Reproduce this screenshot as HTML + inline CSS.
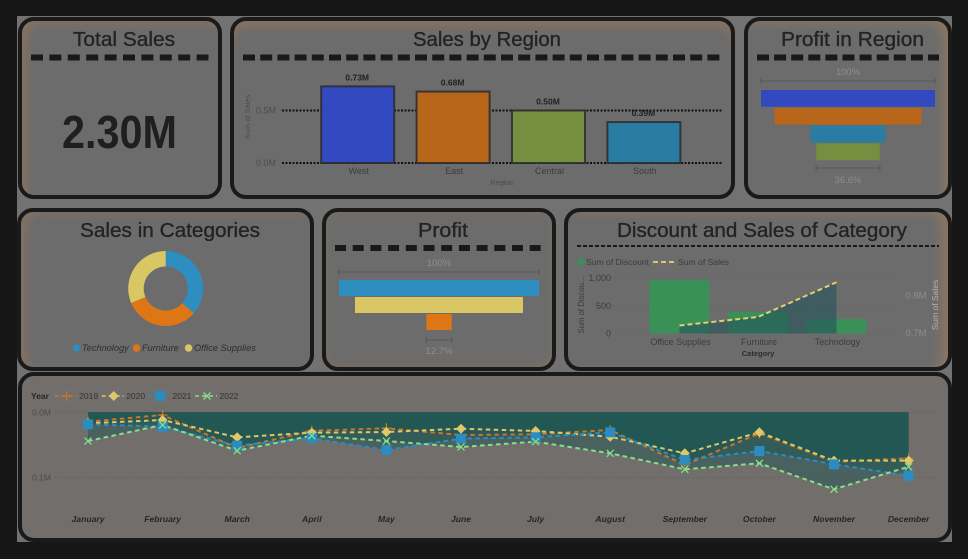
<!DOCTYPE html>
<html lang="en">
<head>
<meta charset="utf-8">
<title>Sales Dashboard</title>
<style>
html,body{margin:0;padding:0;background:#161616;}
#stage{position:relative;width:968px;height:559px;overflow:hidden;background:#161616;font-family:"Liberation Sans",sans-serif;}
#backdrop{position:absolute;left:17px;top:16px;width:935px;height:526px;background:#727272;}
.card{position:absolute;box-sizing:border-box;border:4px solid #1a1a1a;border-radius:16px;background:#6c6c6c;}
#overlay{position:absolute;left:0;top:0;filter:blur(0.3px);}
text{font-family:"Liberation Sans",sans-serif;}
.title{font-size:20px;fill:#232323;stroke:#232323;stroke-width:0.35px;text-anchor:middle;}
.dash{stroke:#191919;stroke-width:6;fill:none;}
.axis{font-size:9px;fill:#3c3c3c;}
.faint{font-size:9px;fill:#4c4c4c;}
.pct{font-size:9.5px;fill:#8e8e8e;text-anchor:middle;}
.grid{stroke:#111;stroke-width:2;stroke-dasharray:2 1.5;fill:none;}
.softgrid{stroke:#5f5f5f;stroke-width:1;stroke-dasharray:1 2;fill:none;}
</style>
</head>
<body>
<div id="stage">
  <div id="backdrop"></div>
  <div class="card" style="left:18px;top:17px;width:204px;height:182px;box-shadow:inset 8px 6px 9px -3px #87725f;"></div>
  <div class="card" style="left:230px;top:17px;width:505px;height:182px;box-shadow:inset 0 9px 10px -3px #87725f;"></div>
  <div class="card" style="left:744px;top:17px;width:208px;height:182px;box-shadow:inset -8px 5px 10px -3px #8b7663;"></div>
  <div class="card" style="left:17px;top:208px;width:297px;height:163px;box-shadow:inset 8px 3px 10px -3px #857262;"></div>
  <div class="card" style="left:322px;top:208px;width:234px;height:163px;box-shadow:inset 0 0 9px 1px #7a6f66;"></div>
  <div class="card" style="left:564px;top:208px;width:388px;height:163px;box-shadow:inset -9px 2px 10px -2px #8b7664;"></div>
  <div class="card" style="left:18px;top:372px;width:934px;height:170px;background:#726e6c;"></div>

  <svg id="overlay" width="968" height="559" viewBox="0 0 968 559" xmlns="http://www.w3.org/2000/svg">
    <text class="title" x="124" y="46" textLength="102" lengthAdjust="spacingAndGlyphs">Total Sales</text>
    <line class="dash" x1="31" y1="57.5" x2="208.5" y2="57.5" stroke-dasharray="12 6.4"/>
    <text x="119.5" y="148" font-size="46" font-weight="700" fill="#1f1f1f" text-anchor="middle" textLength="115" lengthAdjust="spacingAndGlyphs">2.30M</text>

    <text class="title" x="487" y="46" textLength="148" lengthAdjust="spacingAndGlyphs">Sales by Region</text>
    <line class="dash" x1="243" y1="57.5" x2="722" y2="57.5" stroke-dasharray="12 5.2"/>
    <g id="region-chart"></g>
    <text class="faint" x="250" y="117" style="font-size:7.5px" text-anchor="middle" transform="rotate(-90 250 117)">Sum of Sales</text>
    <text class="faint" x="502" y="185" style="font-size:7.5px" text-anchor="middle">Region</text>

    <text class="title" x="852.5" y="46" textLength="143" lengthAdjust="spacingAndGlyphs">Profit in Region</text>
    <line class="dash" x1="757" y1="57.5" x2="939" y2="57.5" stroke-dasharray="12 5.1"/>
    <g id="region-funnel"></g>

    <text class="title" x="170" y="237" textLength="180" lengthAdjust="spacingAndGlyphs">Sales in Categories</text>
    <g id="donut"></g>

    <text class="title" x="443" y="237" textLength="50" lengthAdjust="spacingAndGlyphs">Profit</text>
    <line class="dash" x1="335" y1="248" x2="542" y2="248" stroke-dasharray="11 6.7"/>
    <g id="profit-funnel"></g>

    <text class="title" x="762" y="237" textLength="290" lengthAdjust="spacingAndGlyphs">Discount and Sales of Category</text>
    <line x1="577" y1="246" x2="939" y2="246" stroke="#191919" stroke-width="2" stroke-dasharray="4 2"/>
    <circle cx="581" cy="262" r="3.5" fill="#3a9157"/>
    <text class="axis" x="586" y="265" style="font-size:8.6px">Sum of Discount</text>
    <line x1="653" y1="262" x2="677" y2="262" stroke="#dcc868" stroke-width="2" stroke-dasharray="5 3"/>
    <text class="axis" x="678" y="265" style="font-size:8.6px">Sum of Sales</text>
    <g id="combo"></g>
    <text class="axis" x="584" y="305" text-anchor="middle" style="font-size:7.8px" transform="rotate(-90 584 305)">Sum of Discou...</text>
    <text x="938" y="305" font-size="8.5" fill="#b2b2b2" text-anchor="middle" transform="rotate(-90 938 305)">Sum of Sales</text>
    <text x="758" y="356" font-size="7.5" font-weight="700" fill="#2c2c2c" text-anchor="middle">Category</text>

    <g id="monthly"></g>
    <text x="31" y="399" font-size="8.5" font-weight="700" fill="#262626">Year</text>
  </svg>
</div>

<script>
/* ---------- data ---------- */
var regionNames = ['West', 'East', 'Central', 'South'];
var regionSales = [0.73, 0.68, 0.50, 0.39];
var regionSalesLabels = ['0.73M', '0.68M', '0.50M', '0.39M'];
var regionTicks = [0.0, 0.5];
var regionTickLabels = ['0.0M', '0.5M'];
var regionColors = ['#3349c0', '#b8661a', '#748f40', '#2a7ca3'];

var regionProfitPct = [100, 84.5, 43, 36.6];
var regionProfitColors = ['#3349c0', '#b8661a', '#2a7ca3', '#748f40'];
var regionProfitLabels = ['100%', '36.6%'];

var categoryNames = ['Technology', 'Furniture', 'Office Supplies'];
var categorySales = [0.84, 0.74, 0.72];
var categoryColors = ['#2d8ebf', '#dd7716', '#d9c765'];

var profitPct = [100, 84, 12.7];
var profitColors = ['#2d8ebf', '#d9c765', '#dd7716'];
var profitLabels = ['100%', '12.7%'];

var comboCategories = ['Office Supplies', 'Furniture', 'Technology'];
var comboDiscount = [960, 390, 260];
var comboSales = [0.72, 0.743, 0.836];
var discountTicks = [0, 500, 1000];
var discountTickLabels = ['0', '500', '1,000'];
var salesTicks = [0.7, 0.8];
var salesTickLabels = ['0.7M', '0.8M'];

var months = ['January', 'February', 'March', 'April', 'May', 'June', 'July', 'August', 'September', 'October', 'November', 'December'];
var profit2019 = [14.4, 4.1, 54.7, 28.2, 24.5, 34.8, 33.7, 27.1, 80.7, 32.2, 75.7, 70.4];
var profit2020 = [16.8, 11.8, 38.3, 31.2, 30.2, 25.1, 28.6, 37.4, 62.8, 30.6, 74.1, 74.1];
var profit2021 = [18.4, 22.1, 51.1, 39.8, 57.7, 40.4, 38.3, 30.6, 73.0, 59.3, 79.6, 97.1];
var profit2022 = [44.0, 19.4, 58.8, 35.8, 44.0, 53.1, 45.0, 62.8, 87.3, 78.1, 117.9, 83.3];
var yearNames = ['2019', '2020', '2021', '2022'];
var monthlyTicks = [0, 100];
var monthlyTickLabels = ['0.0M', '0.1M'];

/* ---------- helpers ---------- */
var NS = 'http://www.w3.org/2000/svg';
function mk(parent, tag, props, txt) {
  var n = document.createElementNS(NS, tag);
  for (var k in props) { n.setAttribute(k, props[k]); }
  if (txt !== undefined) { n.textContent = txt; }
  parent.appendChild(n);
  return n;
}
function tag(n, name) {
  
  
  return n;
}

/* ---------- sales by region ---------- */
(function () {
  var g = document.getElementById('region-chart');
  function y(v) { return 163 - v * 105; }
  function x(i) { return 357.7 + i * 95.4; }
  regionTicks.forEach(function (t, i) {
    tag(mk(g, 'line', { 'class': 'grid', x1: 282, x2: 722, y1: y(t), y2: y(t) }), 'region-gridline');
    tag(mk(g, 'text', { 'class': 'faint', x: 256, y: y(t) + 3 }, regionTickLabels[i]), 'region-y-tick');
  });
  regionNames.forEach(function (name, i) {
    tag(mk(g, 'rect', { x: x(i) - 36.5, y: y(regionSales[i]), width: 73, height: y(0) - y(regionSales[i]), fill: regionColors[i], stroke: '#2c2c2c', 'stroke-opacity': 0.85, 'stroke-width': 2 }), 'bar-' + name.toLowerCase());
    tag(mk(g, 'text', { x: x(i) - 0.5, y: y(regionSales[i]) - 6, 'font-size': 8.5, 'font-weight': 700, fill: '#222', 'text-anchor': 'middle' }, regionSalesLabels[i]), 'bar-value-' + name.toLowerCase());
    tag(mk(g, 'text', { 'class': 'axis', x: x(i) + 1, y: 174, 'text-anchor': 'middle' }, name), 'region-x-tick');
  });
})();

/* ---------- funnels ---------- */
function funnel(gid, vals, cols, labels, cx, full, tops, h, topBr, topLab, botBr, botLab, prefix) {
  var g = document.getElementById(gid);
  function w(v) { return v / 100 * full; }
  vals.forEach(function (v, i) {
    tag(mk(g, 'rect', { x: cx - w(v) / 2, y: tops + i * (h + 1), width: w(v), height: h, fill: cols[i] }), prefix + '-stage-' + (i + 1));
  });
  function bracket(v, yy, nm) {
    var hw = w(v) / 2;
    var b = tag(mk(g, 'g', { stroke: '#575757', 'stroke-width': 1, fill: 'none' }), nm);
    mk(b, 'line', { x1: cx - hw, x2: cx + hw, y1: yy, y2: yy });
    mk(b, 'line', { x1: cx - hw, x2: cx - hw, y1: yy - 3, y2: yy + 3 });
    mk(b, 'line', { x1: cx + hw, x2: cx + hw, y1: yy - 3, y2: yy + 3 });
  }
  bracket(vals[0], topBr, prefix + '-top-bracket');
  bracket(vals[vals.length - 1], botBr, prefix + '-bottom-bracket');
  tag(mk(g, 'text', { 'class': 'pct', x: cx, y: topLab }, labels[0]), prefix + '-top-percent');
  tag(mk(g, 'text', { 'class': 'pct', x: cx, y: botLab }, labels[1]), prefix + '-bottom-percent');
}
funnel('region-funnel', regionProfitPct, regionProfitColors, regionProfitLabels, 848, 174, 90, 16.8, 81, 75, 168, 183, 'region-funnel');
funnel('profit-funnel', profitPct, profitColors, profitLabels, 439, 200, 280, 16, 272, 266, 340, 354, 'profit-funnel');

/* ---------- donut ---------- */
(function () {
  var g = document.getElementById('donut');
  var cx = 165.7, cy = 288.5, R = 37.5, r = 22;
  var total = categorySales.reduce(function (a, b) { return a + b; }, 0);
  var a0 = 0;
  function pt(rad, a) { return (cx + rad * Math.sin(a)) + ' ' + (cy - rad * Math.cos(a)); }
  categorySales.forEach(function (v, i) {
    var a1 = a0 + v / total * Math.PI * 2;
    var large = (a1 - a0) > Math.PI ? 1 : 0;
    var d = 'M' + pt(R, a0) + 'A' + R + ' ' + R + ' 0 ' + large + ' 1 ' + pt(R, a1) +
            'L' + pt(r, a1) + 'A' + r + ' ' + r + ' 0 ' + large + ' 0 ' + pt(r, a0) + 'Z';
    tag(mk(g, 'path', { d: d, fill: categoryColors[i] }), 'donut-slice-' + categoryNames[i].toLowerCase().replace(' ', '-'));
    a0 = a1;
  });
  var lx = 76.5;
  var offsets = [0, 60, 112];
  categoryNames.forEach(function (name, i) {
    tag(mk(g, 'circle', { cx: lx + offsets[i], cy: 348, r: 3.7, fill: categoryColors[i] }), 'donut-legend-marker');
    tag(mk(g, 'text', { x: lx + offsets[i] + 5.5, y: 351, 'font-size': 9.2, 'font-style': 'italic', fill: '#2e2e2e' }, name), 'donut-legend-label');
  });
})();

/* ---------- combo chart ---------- */
(function () {
  var g = document.getElementById('combo');
  function yL(v) { return 333.5 - v * 0.0555; }
  function yR(v) { return 333 - (v - 0.7) * 373; }
  function x(i) { return 679.5 + i * 78.5; }
  [278, 306, 333].forEach(function (yy) {
    tag(mk(g, 'line', { 'class': 'softgrid', x1: 612, x2: 897, y1: yy, y2: yy }), 'combo-gridline');
  });
  discountTicks.forEach(function (t, i) {
    tag(mk(g, 'text', { 'class': 'axis', x: 611, y: yL(t) + 3, 'text-anchor': 'end' }, discountTickLabels[i]), 'discount-y-tick');
  });
  salesTicks.forEach(function (t, i) {
    tag(mk(g, 'text', { 'class': 'pct', x: 916, y: yR(t) + 3 }, salesTickLabels[i]), 'sales-y-tick');
  });
  comboCategories.forEach(function (c, i) {
    tag(mk(g, 'rect', { x: x(i) - 30, y: yL(comboDiscount[i]), width: 60, height: yL(0) - yL(comboDiscount[i]), fill: '#3a9157' }), 'discount-bar-' + c.toLowerCase().replace(' ', '-'));
    tag(mk(g, 'text', { 'class': 'axis', x: x(i) + 1, y: 345, 'text-anchor': 'middle' }, c), 'category-x-tick');
  });
  var pts = comboSales.map(function (v, i) { return x(i) + ',' + yR(v); }).join(' ');
  tag(mk(g, 'polygon', { points: x(0) + ',' + yL(0) + ' ' + pts + ' ' + x(comboSales.length - 1) + ',' + yL(0), fill: '#23525a', 'fill-opacity': 0.62 }), 'sales-area');
  tag(mk(g, 'polyline', { points: pts, fill: 'none', stroke: '#e0d070', 'stroke-width': 2, 'stroke-dasharray': '5 3' }), 'sales-line');
})();

/* ---------- monthly lines ---------- */
(function () {
  var g = document.getElementById('monthly');
  var series = [profit2019, profit2020, profit2021, profit2022];
  var colors = ['#c8762a', '#dcc868', '#2a8cc0', '#86e08a'];
  function x(i) { return 88 + i * 74.6; }
  function y(v) { return 412.3 + v * 0.653; }
  monthlyTicks.forEach(function (t, i) {
    tag(mk(g, 'line', { 'class': 'softgrid', x1: 55, x2: 935, y1: y(t), y2: y(t) }), 'monthly-gridline');
    tag(mk(g, 'text', { 'class': 'faint', x: 32, y: y(t) + 3, style: 'font-size:8.5px' }, monthlyTickLabels[i]), 'monthly-y-tick');
  });
  series.forEach(function (vals, s) {
    var top = x(0) + ',' + y(0) + ' ';
    var line = vals.map(function (v, i) { return x(i) + ',' + y(v); }).join(' ');
    tag(mk(g, 'polygon', { points: top + line + ' ' + x(vals.length - 1) + ',' + y(0), fill: '#1c5553', 'fill-opacity': 0.47 }), 'area-' + yearNames[s]);
  });
  function marker(p, s, cx, cy, nm) {
    var c = colors[s], m;
    if (s === 0) {
      m = mk(p, 'path', { d: 'M' + (cx - 5) + ' ' + cy + 'H' + (cx + 5) + 'M' + cx + ' ' + (cy - 5) + 'V' + (cy + 5), stroke: c, 'stroke-width': 1.3, fill: 'none' });
    } else if (s === 1) {
      m = mk(p, 'path', { d: 'M' + cx + ' ' + (cy - 5) + 'L' + (cx + 5) + ' ' + cy + 'L' + cx + ' ' + (cy + 5) + 'L' + (cx - 5) + ' ' + cy + 'Z', fill: c });
    } else if (s === 2) {
      m = mk(p, 'rect', { x: cx - 5, y: cy - 5, width: 10, height: 10, fill: c });
    } else {
      m = mk(p, 'path', { d: 'M' + (cx - 3.5) + ' ' + (cy - 3.5) + 'L' + (cx + 3.5) + ' ' + (cy + 3.5) + 'M' + (cx + 3.5) + ' ' + (cy - 3.5) + 'L' + (cx - 3.5) + ' ' + (cy + 3.5), stroke: c, 'stroke-width': 1.3, fill: 'none' });
    }
    tag(m, nm);
  }
  series.forEach(function (vals, s) {
    var line = vals.map(function (v, i) { return x(i) + ',' + y(v); }).join(' ');
    tag(mk(g, 'polyline', { points: line, fill: 'none', stroke: colors[s], 'stroke-width': 2, 'stroke-dasharray': '4.5 3.5' }), 'line-' + yearNames[s]);
  });
  series.forEach(function (vals, s) {
    vals.forEach(function (v, i) { marker(g, s, x(i), y(v), 'point-' + yearNames[s] + '-' + months[i].toLowerCase()); });
  });
  months.forEach(function (m, i) {
    tag(mk(g, 'text', { x: x(i), y: 522, 'font-size': 8.6, 'font-weight': 700, 'font-style': 'italic', fill: '#262626', 'text-anchor': 'middle' }, m), 'month-label-' + m.toLowerCase());
  });
  var legendX = [66.7, 113.7, 160, 207];
  yearNames.forEach(function (yr, s) {
    var lx = legendX[s];
    tag(mk(g, 'line', { x1: lx - 12, x2: lx + 10, y1: 396, y2: 396, stroke: colors[s], 'stroke-width': 1.6, 'stroke-dasharray': '4 3' }), 'legend-line-' + yr);
    marker(g, s, lx, 396, 'legend-marker-' + yr);
    tag(mk(g, 'text', { x: lx + 12.5, y: 399, 'font-size': 8.5, fill: '#333' }, yr), 'legend-label-' + yr);
  });
})();
</script>
</body>
</html>
